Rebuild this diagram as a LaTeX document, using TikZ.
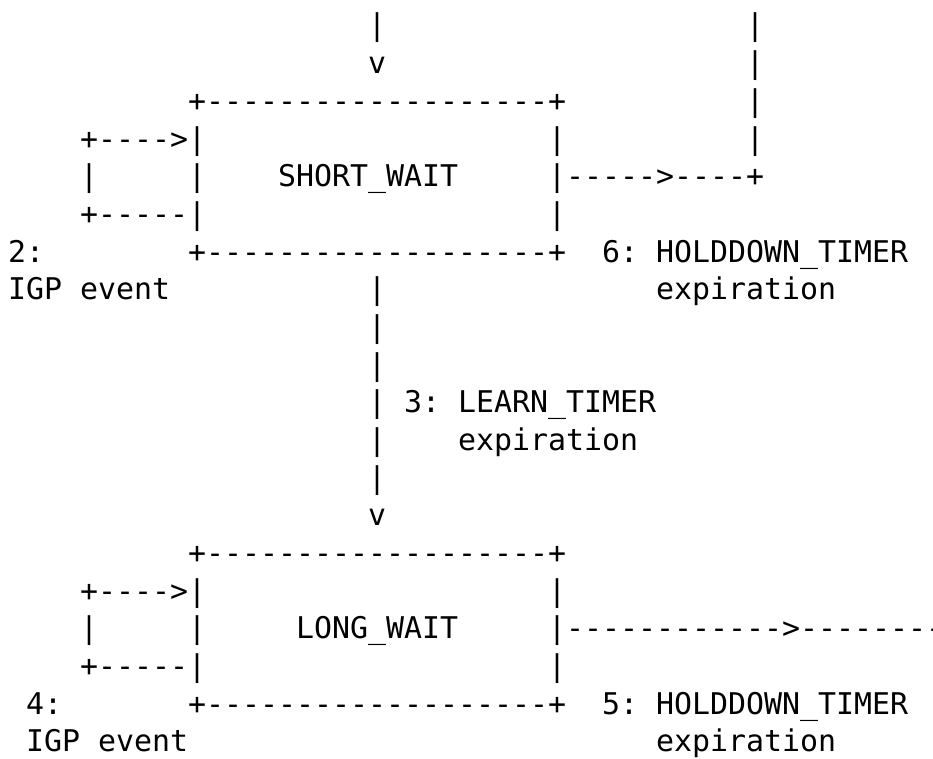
\documentclass[tikz,border=0pt]{standalone}
\usepackage{fontspec}
\setmonofont{DejaVu Sans Mono}
\tikzset{
  ascii/.style={anchor=base west, inner sep=0pt, outer sep=0pt,
    font=\ttfamily\fontsize{29.9bp}{37.67bp}\selectfont},
}
% character cell: column c, row r (18bp wide, 37.67bp tall)
\newcommand\cell[2]{({8+18*#1},{-36-37.67*#2})}
% plain underscore glyph of the mono font
\newcommand\us{\symbol{95}}
\begin{document}
\begin{tikzpicture}[x=1bp,y=1bp]
\path[use as bounding box, clip] (0,0) rectangle (933,-759);
\fill[white] (0,0) rectangle (933,-759);

% incoming arrow and return line from the right
\node[ascii] (inA0) at \cell{20}{0} {|};
\node[ascii] (ret0) at \cell{41}{0} {|};
\node[ascii] (inA1) at \cell{20}{1} {v};
\node[ascii] (ret1) at \cell{41}{1} {|};

% SHORT_WAIT state
\node[ascii] (swTop) at \cell{10}{2} {+-------------------+};
\node[ascii] (ret2) at \cell{41}{2} {|};
\node[ascii] (swLoopA) at \cell{4}{3} {+---->|};
\node[ascii] (swR3) at \cell{30}{3} {|};
\node[ascii] (ret3) at \cell{41}{3} {|};
\node[ascii] (swLoopB) at \cell{4}{4} {|};
\node[ascii] (swL4) at \cell{10}{4} {|};
\node[ascii] (swName) at \cell{15}{4} {SHORT\us WAIT};
\node[ascii] (swOut) at \cell{30}{4} {|----->----+};
\node[ascii] (swLoopC) at \cell{4}{5} {+-----|};
\node[ascii] (swR5) at \cell{30}{5} {|};
\node[ascii] (ev2a) at \cell{0}{6} {2:};
\node[ascii] (swBot) at \cell{10}{6} {+-------------------+};
\node[ascii] (ev6a) at \cell{33}{6} {6: HOLDDOWN\us TIMER};
\node[ascii] (ev2b) at \cell{0}{7} {IGP event};
\node[ascii] (down7) at \cell{20}{7} {|};
\node[ascii] (ev6b) at \cell{36}{7} {expiration};

% transition to LONG_WAIT
\node[ascii] (down8) at \cell{20}{8} {|};
\node[ascii] (down9) at \cell{20}{9} {|};
\node[ascii] (down10) at \cell{20}{10} {|};
\node[ascii] (ev3a) at \cell{22}{10} {3: LEARN\us TIMER};
\node[ascii] (down11) at \cell{20}{11} {|};
\node[ascii] (ev3b) at \cell{25}{11} {expiration};
\node[ascii] (down12) at \cell{20}{12} {|};
\node[ascii] (down13) at \cell{20}{13} {v};

% LONG_WAIT state
\node[ascii] (lwTop) at \cell{10}{14} {+-------------------+};
\node[ascii] (lwLoopA) at \cell{4}{15} {+---->|};
\node[ascii] (lwR15) at \cell{30}{15} {|};
\node[ascii] (lwLoopB) at \cell{4}{16} {|};
\node[ascii] (lwL16) at \cell{10}{16} {|};
\node[ascii] (lwName) at \cell{16}{16} {LONG\us WAIT};
\node[ascii] (lwOut) at \cell{30}{16} {|------------>--------};
\node[ascii] (lwLoopC) at \cell{4}{17} {+-----|};
\node[ascii] (lwR17) at \cell{30}{17} {|};
\node[ascii] (ev4a) at \cell{1}{18} {4:};
\node[ascii] (lwBot) at \cell{10}{18} {+-------------------+};
\node[ascii] (ev5a) at \cell{33}{18} {5: HOLDDOWN\us TIMER};
\node[ascii] (ev4b) at \cell{1}{19} {IGP event};
\node[ascii] (ev5b) at \cell{36}{19} {expiration};
\end{tikzpicture}
\end{document}
